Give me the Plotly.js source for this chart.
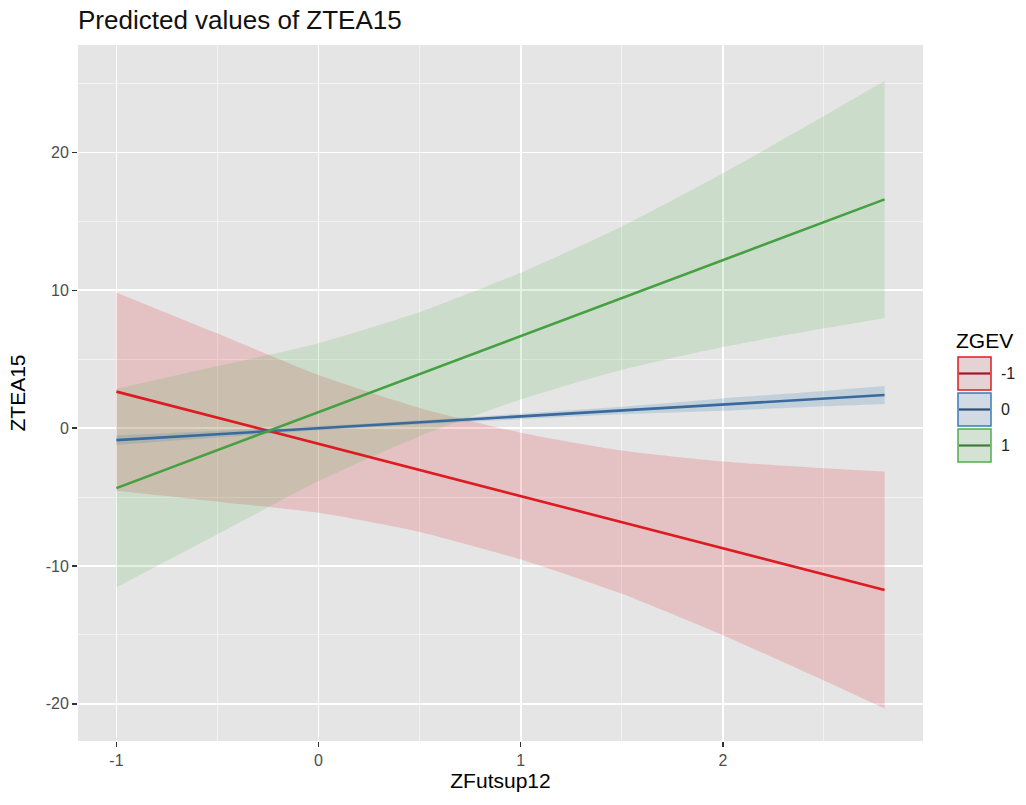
<!DOCTYPE html>
<html>
<head>
<meta charset="utf-8">
<script src="https://cdn.plot.ly/plotly-3.0.1.min.js"></script>
<style>html,body{margin:0;padding:0;background:#fff;}#chart{width:1026px;height:805px;}</style>
</head>
<body>
<div id="chart"></div>
<script>
// ---- data ----
const xValues = [-1, -0.5, 0, 0.5, 1, 1.5, 2, 2.5, 2.8];
const groupNames = ['-1', '0', '1'];

const predMinus1 = [2.65, 0.76, -1.14, -3.03, -4.93, -6.82, -8.72, -10.61, -11.75];
const lowMinus1  = [-4.55, -5.34, -6.14, -7.53, -9.53, -12.02, -15.02, -18.31, -20.35];
const highMinus1 = [9.85, 6.86, 3.86, 1.47, -0.33, -1.62, -2.42, -2.91, -3.15];

const pred0 = [-0.87, -0.44, 0.0, 0.42, 0.85, 1.28, 1.71, 2.14, 2.40];
const low0  = [-1.22, -0.68, -0.15, 0.27, 0.65, 1.00, 1.26, 1.58, 1.75];
const high0 = [-0.52, -0.20, 0.15, 0.57, 1.05, 1.56, 2.16, 2.70, 3.05];

const pred1 = [-4.35, -1.60, 1.16, 3.92, 6.68, 9.43, 12.19, 14.94, 16.60];
const low1  = [-11.55, -7.70, -3.84, -0.58, 2.08, 4.23, 5.89, 7.24, 8.00];
const high1 = [2.85, 4.50, 6.16, 8.42, 11.28, 14.63, 18.49, 22.64, 25.20];

const xTickVals = [-1, 0, 1, 2];
const xTickText = ['-1', '0', '1', '2'];
const yTickVals = [-20, -10, 0, 10, 20];
const yTickText = ['-20', '-10', '0', '10', '20'];

// ---- styling ----
const lineColors = ['#DC1C22', '#3A6A9C', '#45A042'];
const bandColors = ['rgba(228,26,28,0.17)', 'rgba(55,126,184,0.20)', 'rgba(77,175,74,0.17)'];
const keyBorder = ['#E41A1C', '#377EB8', '#4DAF4A'];
const keyFill = ['#E4D2D4', '#D2DAE4', '#D4E2D3'];
const keyLine = ['#A3162A', '#2F4E72', '#3F7A3C'];

const preds = [predMinus1, pred0, pred1];
const lows = [lowMinus1, low0, low1];
const highs = [highMinus1, high0, high1];

const traces = [];
for (let g = 0; g < 3; g++) {
  traces.push({x: xValues, y: lows[g], type: 'scatter', mode: 'lines',
    line: {width: 0, shape: 'spline', smoothing: 0.6}, showlegend: false, hoverinfo: 'skip'});
  traces.push({x: xValues, y: highs[g], type: 'scatter', mode: 'lines', fill: 'tonexty',
    fillcolor: bandColors[g], line: {width: 0, shape: 'spline', smoothing: 0.6},
    showlegend: false, hoverinfo: 'skip'});
}
for (let g = 0; g < 3; g++) {
  traces.push({x: xValues, y: preds[g], type: 'scatter', mode: 'lines', name: groupNames[g],
    line: {color: lineColors[g], width: 2.6}, showlegend: false});
}

// plot-area pixel frame
const L = 78, R = 923, T = 45, B = 741, W = 1026, H = 805;
const px = v => (v - L) / (R - L);
const py = v => (B - v) / (B - T);

const shapes = [];
const annotations = [];
const keyTops = [357, 393, 429];
for (let g = 0; g < 3; g++) {
  const t = keyTops[g];
  shapes.push({type: 'rect', xref: 'paper', yref: 'paper', x0: px(958), x1: px(991), y0: py(t + 33), y1: py(t),
    fillcolor: keyFill[g], line: {color: keyBorder[g], width: 1.5}});
  shapes.push({type: 'line', xref: 'paper', yref: 'paper', x0: px(959), x1: px(990), y0: py(t + 16.5), y1: py(t + 16.5),
    line: {color: keyLine[g], width: 2.2}});
  annotations.push({text: groupNames[g], xref: 'paper', yref: 'paper', x: px(999), y: py(t + 16.5),
    xanchor: 'left', yanchor: 'middle', showarrow: false,
    font: {family: 'Liberation Sans, Arial, sans-serif', size: 16, color: '#222'}});
}
annotations.push({text: 'ZGEV', xref: 'paper', yref: 'paper', x: px(954), y: py(340),
  xanchor: 'left', yanchor: 'middle', showarrow: false,
  font: {family: 'Liberation Sans, Arial, sans-serif', size: 21, color: '#000'}});

const fontFam = 'Liberation Sans, Arial, sans-serif';
const layout = {
  width: W, height: H,
  margin: {l: L, r: W - R, t: T, b: H - B, pad: 0},
  paper_bgcolor: '#FFFFFF',
  plot_bgcolor: '#E5E5E5',
  showlegend: false,
  title: {text: 'Predicted values of ZTEA15', font: {family: fontFam, size: 26, color: '#111'},
    x: 0, xref: 'paper', xanchor: 'left', y: 1 - 20 / H, yref: 'container', yanchor: 'middle'},
  xaxis: {range: [-1.19, 2.99], tickmode: 'array', tickvals: xTickVals, ticktext: xTickText,
    ticks: 'outside', ticklen: 5, tickwidth: 1.5, tickcolor: '#333',
    tickfont: {family: fontFam, size: 16, color: '#4D4D4D'},
    showgrid: true, gridcolor: '#FFFFFF', gridwidth: 1.8, zeroline: false, showline: false,
    minor: {tickmode: 'linear', tick0: -1, dtick: 0.5, showgrid: true, gridcolor: '#F4F4F4', gridwidth: 0.9, ticklen: 0},
    title: {text: 'ZFutsup12', font: {family: fontFam, size: 21, color: '#000'}, standoff: 0},
    fixedrange: true},
  yaxis: {range: [-22.7, 27.8], tickmode: 'array', tickvals: yTickVals, ticktext: yTickText,
    ticks: 'outside', ticklen: 5, tickwidth: 1.5, tickcolor: '#333',
    tickfont: {family: fontFam, size: 16, color: '#4D4D4D'},
    showgrid: true, gridcolor: '#FFFFFF', gridwidth: 1.8, zeroline: false, showline: false,
    minor: {tickmode: 'linear', tick0: -25, dtick: 5, showgrid: true, gridcolor: '#F4F4F4', gridwidth: 0.9, ticklen: 0},
    title: {text: 'ZTEA15', font: {family: fontFam, size: 21, color: '#000'}, standoff: 14},
    fixedrange: true},
  shapes: shapes,
  annotations: annotations
};

Plotly.newPlot('chart', traces, layout, {displayModeBar: false, staticPlot: true});
</script>
</body>
</html>
